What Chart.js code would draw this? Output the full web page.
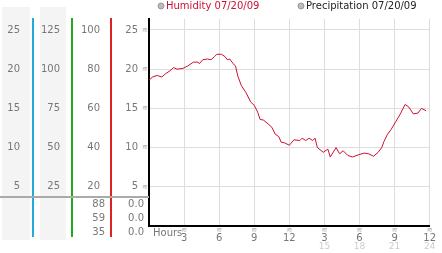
<!DOCTYPE html>
<html>
<head>
<meta charset="utf-8">
<script src="https://cdn.jsdelivr.net/npm/chart.js@4"></script>
<style>
  html, body { margin: 0; padding: 0; background: #fff; }
</style>
</head>
<body>
<canvas id="humidityChart" width="442" height="253"></canvas>
<script>
// Humidity readings, hour of day -> value
const hours = [0, 0.3, 0.7, 1.1, 1.4, 1.8, 2.1, 2.4, 2.9, 3.3, 3.8, 4.2, 4.3, 4.6, 5.0, 5.3, 5.6, 5.8, 6.2, 6.5,
  6.7, 6.9, 7.2, 7.4, 7.6, 7.9, 8.3, 8.7, 9.0, 9.3, 9.5, 9.8, 10.2, 10.5, 10.8, 11.1, 11.3, 11.6, 12.0, 12.4,
  12.9, 13.1, 13.4, 13.7, 14.0, 14.2, 14.4, 14.9, 15.3, 15.5, 16.0, 16.3, 16.6, 17.0, 17.4, 17.95, 18.4, 18.8, 19.2, 19.6,
  19.9, 20.1, 20.4, 20.7, 21.1, 21.5, 21.9, 22.2, 22.6, 23.0, 23.3, 23.7];
const humidity = [18.6, 19.0, 19.2, 19.0, 19.4, 19.8, 20.2, 20.0, 20.1, 20.4, 20.9, 20.9, 20.7, 21.2, 21.3, 21.2, 21.6, 21.9, 21.9, 21.6,
  21.2, 21.3, 20.7, 20.4, 19.1, 17.9, 17.0, 15.8, 15.4, 14.5, 13.6, 13.5, 13.0, 12.6, 11.7, 11.4, 10.7, 10.6, 10.3, 11.0,
  10.9, 11.2, 10.9, 11.2, 10.9, 11.2, 10.0, 9.4, 9.8, 8.8, 10.0, 9.2, 9.6, 9.0, 8.8, 9.1, 9.3, 9.2, 8.9, 9.4,
  10.0, 10.8, 11.7, 12.3, 13.3, 14.3, 15.5, 15.2, 14.3, 14.4, 15.0, 14.7];
const precipitation = [];

// Tick values for each of the left-hand axes
const mainTicks = [5, 10, 15, 20, 25];
const col1Ticks = [5, 10, 15, 20, 25];
const col2Ticks = [25, 50, 75, 100, 125];
const col3Ticks = [20, 40, 60, 80, 100];
const hourTicks = [0, 3, 6, 9, 12, 15, 18, 21, 24];

// Legend labels and small table under the left axes
const seriesLabels = ['Humidity 07/20/09', 'Precipitation 07/20/09'];
const lowTable = [88, 59, 35];
const precipTable = ['0.0', '0.0', '0.0'];

const FONT = 'DejaVu Sans';
const TICK_COLOR = '#777';
const AXIS_COLORS = { y1: '#22aadd', y2: '#22aa22', y3: '#dd2222' };

// Helper for the extra left-hand axes (their colored lines are drawn by the plugin)
function leftAxis(weight, max, tickValues, width, pad) {
  return {
    position: 'left',
    weight: weight,
    min: 0,
    max: max,
    grid: { display: false, drawTicks: false },
    border: { display: false },
    ticks: { padding: pad, color: TICK_COLOR, font: { family: FONT, size: 10 } },
    afterBuildTicks: s => { s.ticks = tickValues.map(v => ({ value: v })); },
    afterFit: s => { s.width = width; }
  };
}

// Backgrounds, table, little markers and legend
const decorations = {
  id: 'decorations',
  beforeDraw(chart) {
    const ctx = chart.ctx;
    const s = chart.scales;
    ctx.save();
    ctx.fillStyle = '#f4f4f4';
    ctx.fillRect(s.y1.left + 2, 7, s.y1.width - 5, 233);
    ctx.fillRect(s.y2.left + 7, 7, s.y2.width - 13, 233);
    ctx.restore();
  },
  afterDraw(chart) {
    const ctx = chart.ctx;
    const s = chart.scales;
    const area = chart.chartArea;
    ctx.save();

    // colored axis lines, run a bit below the plot
    Object.keys(AXIS_COLORS).forEach(id => {
      const x = Math.round(s[id].right);
      ctx.fillStyle = AXIS_COLORS[id];
      ctx.fillRect(x - 1, area.top - 1, 2, area.bottom - area.top + 12);
    });

    // divider line
    ctx.fillStyle = '#aaaaaa';
    ctx.fillRect(0, area.bottom - 30, area.left, 2);

    // table values
    ctx.font = '10px ' + FONT;
    ctx.fillStyle = TICK_COLOR;
    ctx.textAlign = 'right';
    ctx.textBaseline = 'middle';
    lowTable.forEach((v, i) => ctx.fillText(String(v), s.y3.right - 6, area.bottom - 22 + i * 14));
    precipTable.forEach((v, i) => ctx.fillText(v, area.left - 5, area.bottom - 22 + i * 14));

    // tiny markers on ticks
    ctx.font = '7px ' + FONT;
    ctx.fillStyle = '#aaa';
    ctx.textAlign = 'center';
    s.y.ticks.forEach(t => ctx.fillText('≋', area.left - 4, s.y.getPixelForValue(t.value)));
    s.x.ticks.forEach(t => {
      if (t.value > 0) ctx.fillText('≋', s.x.getPixelForValue(t.value), area.bottom + 4);
    });

    // "Hours" label
    ctx.font = '10px ' + FONT;
    ctx.fillStyle = TICK_COLOR;
    ctx.textAlign = 'left';
    ctx.fillText('Hours', area.left + 4, area.bottom + 7);

    // legend
    const legendX = [161, 301];
    chart.data.datasets.forEach((ds, i) => {
      ctx.beginPath();
      ctx.arc(legendX[i], 6, 3, 0, Math.PI * 2);
      ctx.fillStyle = '#bbbbbb';
      ctx.fill();
      ctx.strokeStyle = '#999';
      ctx.lineWidth = 1;
      ctx.stroke();
      ctx.fillStyle = i === 0 ? '#cc1133' : '#222';
      ctx.fillText(ds.label, legendX[i] + 5, 6);
    });
    ctx.restore();
  }
};

new Chart(document.getElementById('humidityChart'), {
  type: 'line',
  data: {
    datasets: [{
      label: seriesLabels[0],
      data: hours.map((h, i) => ({ x: h, y: humidity[i] })),
      borderColor: '#cc1133',
      borderWidth: 1,
      pointRadius: 0,
      tension: 0,
      xAxisID: 'x',
      yAxisID: 'y'
    }, {
      label: seriesLabels[1],
      data: precipitation,
      borderColor: '#222',
      borderWidth: 1,
      pointRadius: 0,
      xAxisID: 'x',
      yAxisID: 'y'
    }]
  },
  options: {
    responsive: false,
    animation: false,
    layout: { padding: { top: 13, right: 2, left: 0, bottom: 0 } },
    plugins: {
      legend: { display: false },
      tooltip: { enabled: false }
    },
    scales: {
      x: {
        type: 'linear',
        position: 'bottom',
        weight: 0,
        min: 0,
        max: 24,
        grid: { color: '#dddddd', drawTicks: false },
        border: { color: '#000', width: 2 },
        ticks: {
          padding: 6,
          autoSkip: false,
          maxRotation: 0,
          color: TICK_COLOR,
          font: { family: FONT, size: 10 },
          callback: v => v === 0 ? '' : String((v - 1) % 12 + 1)
        },
        afterBuildTicks: s => { s.ticks = hourTicks.map(v => ({ value: v })); },
        afterFit: s => { s.height = 15; }
      },
      x2: {
        type: 'linear',
        position: 'bottom',
        weight: 1,
        min: 0,
        max: 24,
        grid: { display: false, drawTicks: false },
        border: { display: false },
        ticks: {
          padding: 0,
          autoSkip: false,
          maxRotation: 0,
          color: '#cccccc',
          font: { family: FONT, size: 9 },
          callback: v => v > 12 ? String(v) : ''
        },
        afterBuildTicks: s => { s.ticks = hourTicks.map(v => ({ value: v })); },
        afterFit: s => { s.height = 12; }
      },
      y: {
        position: 'left',
        weight: 0,
        min: 0,
        max: 26.4,
        grid: { color: '#dddddd', drawTicks: false },
        border: { color: '#000', width: 2 },
        ticks: { padding: 11, color: TICK_COLOR, font: { family: FONT, size: 10 } },
        afterBuildTicks: s => { s.ticks = mainTicks.map(v => ({ value: v })); },
        afterFit: s => { s.width = 38; }
      },
      y3: leftAxis(1, 105.6, col3Ticks, 39, 11),
      y2: leftAxis(2, 132, col2Ticks, 39, 12),
      y1: leftAxis(3, 26.4, col1Ticks, 33, 13)
    }
  },
  plugins: [decorations]
});
</script>
</body>
</html>
